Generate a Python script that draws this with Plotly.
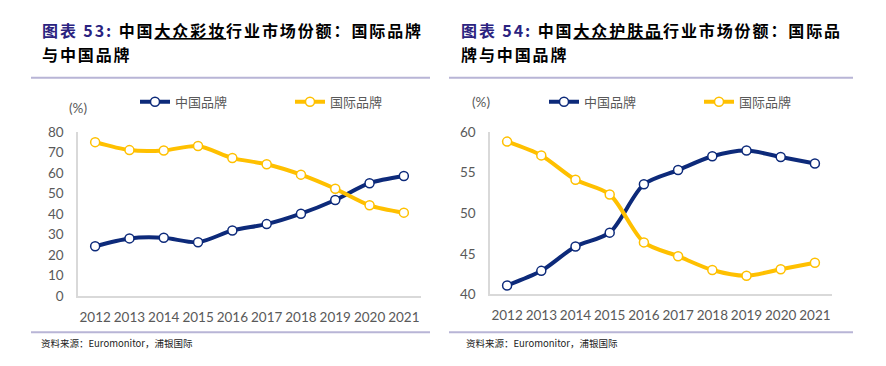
import plotly.graph_objects as go

W, H = 886, 366

years = ["2012", "2013", "2014", "2015", "2016", "2017", "2018", "2019", "2020", "2021"]

# Chart 53: mass cosmetics (color make-up)
makeup_china = [24.3, 28.1, 28.4, 26.2, 32.0, 35.1, 40.2, 46.9, 55.1, 58.6]
makeup_intl = [75.2, 71.3, 71.1, 73.3, 67.4, 64.4, 59.3, 52.4, 44.3, 40.7]

# Chart 54: mass skincare
skin_china = [41.1, 42.9, 45.9, 47.6, 53.55, 55.3, 57.0, 57.7, 56.9, 56.1]
skin_intl = [58.8, 57.1, 54.1, 52.3, 46.4, 44.7, 43.0, 42.3, 43.1, 43.9]

name_cn = "中国品牌"
name_intl = "国际品牌"
title_left_num = "图表 53:"
title_left_1a = " 中国"
title_left_1u = "大众彩妆"
title_left_1b = "行业市场份额：国际品牌"
title_left_2 = "与中国品牌"
title_right_num = "图表 54:"
title_right_1a = " 中国"
title_right_1u = "大众护肤品"
title_right_1b = "行业市场份额：国际品"
title_right_2 = "牌与中国品牌"
source_text = "资料来源：Euromonitor，浦银国际"
unit_text = "(%)"

NAVY = "#0d2a7a"
GOLD = "#ffc000"
GREY = "#595959"
AXIS = "#d9d9d9"


def px_x(p):
    return p / W


def px_y(p):
    return 1 - p / H


fig = go.Figure()


def add_series(x, y, name, color, xa, ya, legend):
    fig.add_trace(go.Scatter(
        x=x, y=y, name=name, mode="lines+markers",
        line=dict(color=color, width=4, shape="spline", smoothing=0.8),
        marker=dict(size=9, color="white", line=dict(color=color, width=1.5)),
        xaxis=xa, yaxis=ya, legend=legend, hoverinfo="x+y"))


add_series(years, makeup_china, name_cn, NAVY, "x", "y", "legend")
add_series(years, makeup_intl, name_intl, GOLD, "x", "y", "legend")
add_series(years, skin_china, name_cn, NAVY, "x2", "y2", "legend2")
add_series(years, skin_intl, name_intl, GOLD, "x2", "y2", "legend2")

tickfont = dict(family="Lato, Carlito, sans-serif", size=13.5, color=GREY)

xcommon = dict(type="category", range=[-0.5, 9.5], showgrid=False, zeroline=False,
               showline=True, linecolor=AXIS, linewidth=1.5, ticks="",
               tickfont=tickfont, ticklabelstandoff=8, fixedrange=True)
ycommon = dict(showgrid=False, zeroline=False, showline=True, linecolor=AXIS,
               linewidth=1.5, ticks="", tickfont=tickfont, ticklabelstandoff=10,
               fixedrange=True)

legfont = dict(family="Noto Sans CJK SC", size=13, color=GREY)

fig.update_layout(
    width=W, height=H, margin=dict(l=0, r=0, t=0, b=0),
    paper_bgcolor="white", plot_bgcolor="white",
    xaxis=dict(domain=[px_x(78), px_x(421)], anchor="y", **xcommon),
    yaxis=dict(domain=[px_y(301), px_y(130)], range=[0, 80], dtick=10, anchor="x", **ycommon),
    xaxis2=dict(domain=[px_x(490), px_x(832)], anchor="y2", **xcommon),
    yaxis2=dict(domain=[px_y(299.5), px_y(129.5)], range=[40, 60], dtick=5, anchor="x2", **ycommon),
    legend=dict(orientation="h", x=px_x(135), y=px_y(98), xanchor="left", yanchor="middle",
                font=legfont, entrywidth=110, entrywidthmode="pixels",
                bgcolor="rgba(0,0,0,0)", itemclick=False, itemdoubleclick=False),
    legend2=dict(orientation="h", x=px_x(544), y=px_y(98), xanchor="left", yanchor="middle",
                 font=legfont, entrywidth=110, entrywidthmode="pixels",
                 bgcolor="rgba(0,0,0,0)", itemclick=False, itemdoubleclick=False),
    showlegend=True,
)

TFONT = dict(family="Noto Sans CJK SC", size=16, color="#000000")
PURPLE = "#2b2380"
UL = "text-decoration:underline;text-decoration-color:#7f7f7f"
LS = "letter-spacing:1.9px"

annos = []


def title(x, num, a, u, b, line2):
    t1 = (f"<b><span style='{LS}'><span style='color:{PURPLE}'>{num}</span>{a}"
          f"<span style='{UL}'>{u}</span>{b}</span></b>")
    t2 = f"<b><span style='{LS}'>{line2}</span></b>"
    for t, yy in ((t1, 23), (t2, 48)):
        annos.append(dict(text=t, x=px_x(x), y=px_y(yy), xref="paper", yref="paper",
                          xanchor="left", yanchor="middle", align="left", showarrow=False,
                          font=TFONT, borderpad=0))


title(41, title_left_num, title_left_1a, title_left_1u, title_left_1b, title_left_2)
title(460, title_right_num, title_right_1a, title_right_1u, title_right_1b, title_right_2)

for sx in (40, 465):
    annos.append(dict(text=source_text, x=px_x(sx), y=px_y(350), xref="paper", yref="paper",
                      xanchor="left", yanchor="middle", showarrow=False, borderpad=0,
                      font=dict(family="Noto Sans CJK SC", size=9.5, color="#222222")))

annos.append(dict(text=unit_text, x=px_x(78), y=px_y(105), xref="paper", yref="paper",
                  xanchor="center", yanchor="middle", showarrow=False,
                  font=dict(family="Lato", size=13.5, color=GREY)))
annos.append(dict(text=unit_text, x=px_x(481), y=px_y(98), xref="paper", yref="paper",
                  xanchor="center", yanchor="middle", showarrow=False,
                  font=dict(family="Lato", size=13.5, color=GREY)))

fig.update_layout(annotations=annos)

shapes = []
for (x0, x1) in ((31, 430), (449, 853)):
    for yy in (73, 339):
        shapes.append(dict(type="line", xref="paper", yref="paper",
                           x0=px_x(x0), x1=px_x(x1), y0=px_y(yy), y1=px_y(yy),
                           line=dict(color="#b8b5d6", width=2)))
fig.update_layout(shapes=shapes)

fig.write_html("out.html", config={"displayModeBar": False},
               post_script="document.body.style.margin='0';document.body.style.overflow='hidden';")
